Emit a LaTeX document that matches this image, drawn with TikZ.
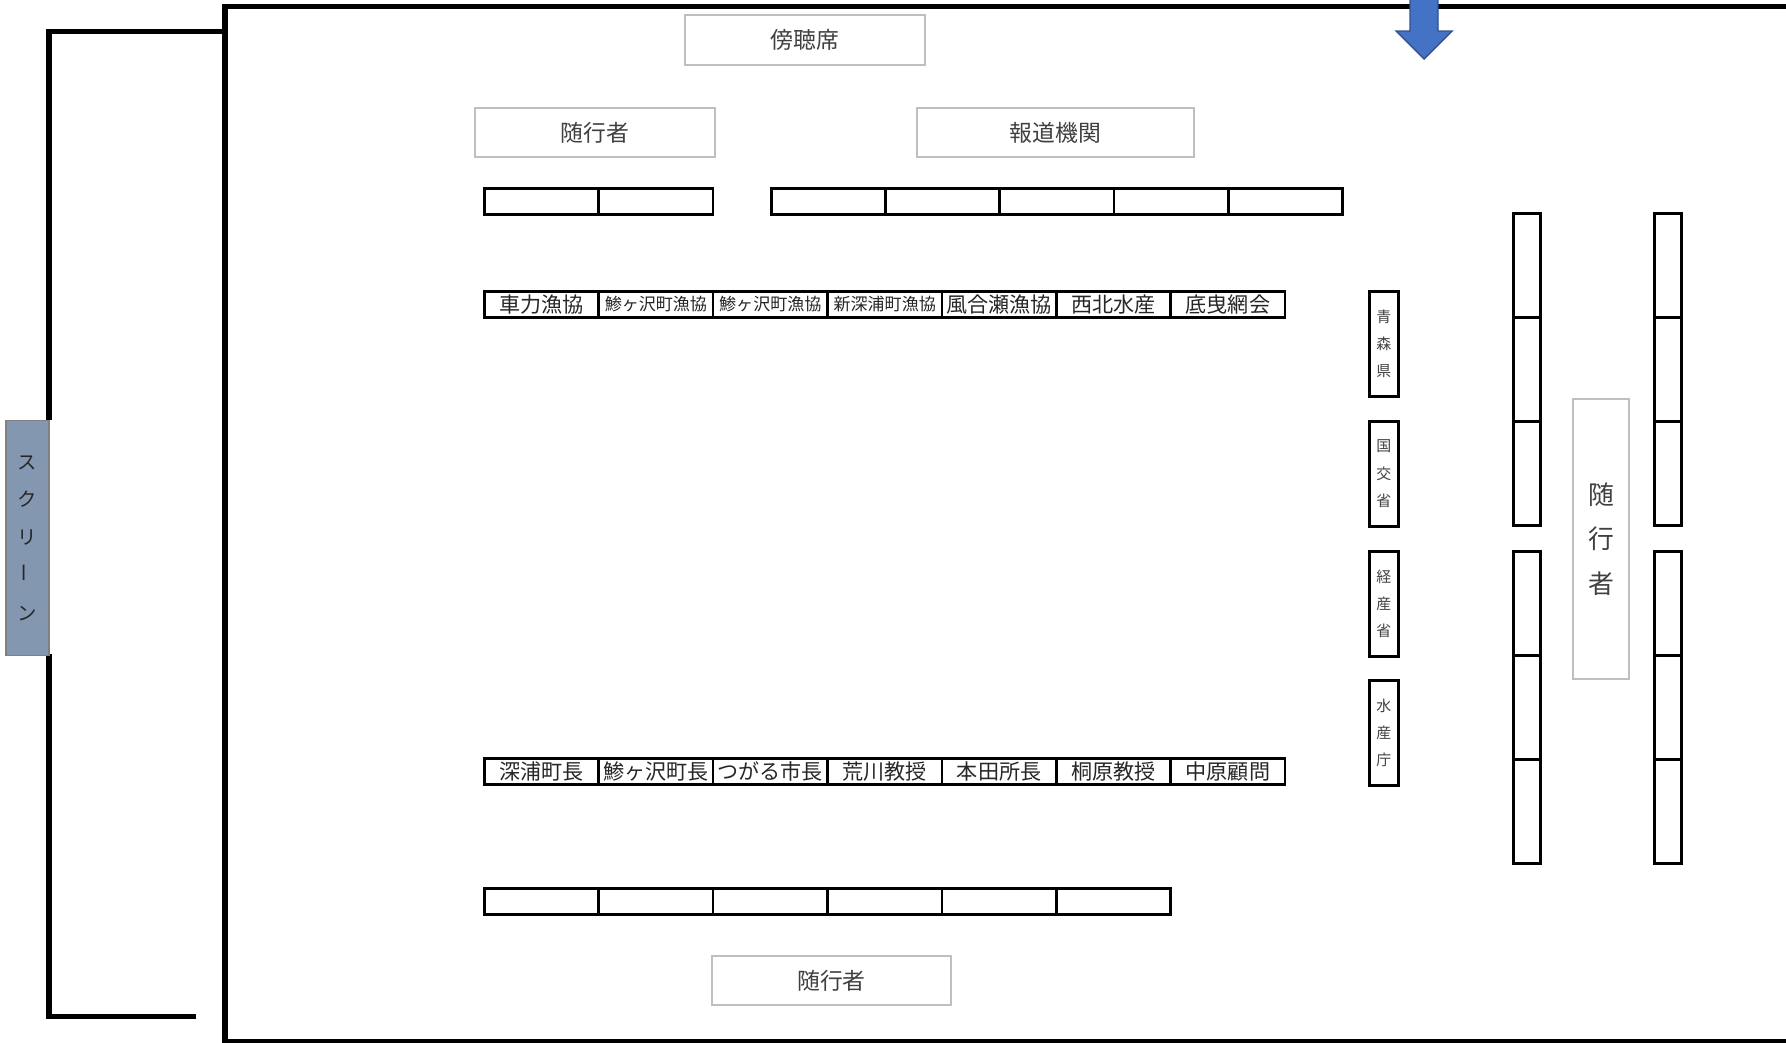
\documentclass[tikz,border=0pt]{standalone}
\usepackage{fontspec}
\setmainfont{Noto Sans CJK JP}
\usetikzlibrary{calc}
\definecolor{screenfill}{HTML}{8497B0}
\definecolor{arrowblue}{HTML}{4472C4}
\definecolor{arrowedge}{HTML}{2F528F}
\definecolor{tagline}{HTML}{BFBFBF}
\definecolor{tagtext}{HTML}{404040}
\newcommand{\narrowlab}[1]{{\fontsize{9.7}{10}\selectfont #1}}
\tikzset{
  wall/.style={line width=2.85pt},
  seat/.style={draw,line width=1.5pt,minimum width=2.288cm,minimum height=0.52cm,inner sep=0pt,anchor=north west,text=black!85,font=\fontsize{12}{13}\selectfont},
  chair/.style={draw,line width=1.6pt,minimum width=0.54cm,minimum height=2.08cm,inner sep=0pt,anchor=north west},
  ministry/.style={draw,line width=1.6pt,minimum width=0.58cm,minimum height=2.1cm,inner sep=0pt,anchor=north west,align=center,text=tagtext,font=\fontsize{8.5}{15.6}\selectfont},
  tagbox/.style={draw=tagline,line width=1pt,fill=white,inner sep=0pt,text=tagtext,font=\fontsize{13}{14}\selectfont}
}
\begin{document}
\begin{tikzpicture}[x=0.02cm,y=-0.02cm]
\useasboundingbox (0,0) rectangle (1786,1042);
% room and screen wall
\draw[wall] (1800,6) -- (225,6) -- (225,1041.5) -- (1800,1041.5);
\draw[wall] (225,31) -- (49,31) -- (49,420);
\draw[wall] (49,654) -- (49,1016) -- (196,1016);
\node[draw=gray,line width=0.6pt,fill=screenfill,minimum width=0.86cm,minimum height=4.7cm,inner sep=0pt,align=center,text=black!85,font=\fontsize{11}{21.5}\selectfont] (screen) at (27.5,538) {ス\\ク\\リ\\\rotatebox{90}{ー}\\ン};
% entrance
\draw[fill=arrowblue,draw=arrowedge,line width=0.8pt] (1410,-5) -- (1410,31) -- (1396,31) -- (1424,59) -- (1452,31) -- (1438,31) -- (1438,-5) -- cycle;
% gallery and press
\node[tagbox,minimum width=4.8cm,minimum height=1cm] (gallery) at (805,40) {傍聴席};
\node[tagbox,minimum width=4.8cm,minimum height=0.98cm] (aidetop) at (595,132.5) {随行者};
\node[tagbox,minimum width=5.54cm,minimum height=0.98cm] (press) at (1055.5,132.5) {報道機関};
\node[tagbox,minimum width=4.78cm,minimum height=0.98cm] (aidebottom) at (831.5,980.5) {随行者};
\node[tagbox,minimum width=1.12cm,minimum height=5.6cm,align=center,font=\fontsize{14.7}{25.5}\selectfont] (aideright) at (1601,539) {随\\行\\者};
% rows of tables
\foreach \i in {0,1} \node[seat] (back\i) at (483+114.4*\i,187) {};
\foreach \i in {0,...,4} \node[seat] (pressseat\i) at (770+114.2*\i,187) {};
\foreach \lab [count=\i from 0] in {車力漁協,\narrowlab{鯵ヶ沢町漁協},\narrowlab{鯵ヶ沢町漁協},\narrowlab{新深浦町漁協},風合瀬漁協,西北水産,底曳網会}
  \node[seat] (upper\i) at (483+114.4*\i,290) {\lab};
\foreach \lab [count=\i from 0] in {深浦町長,鯵ヶ沢町長,つがる市長,荒川教授,本田所長,桐原教授,中原顧問}
  \node[seat] (lower\i) at (483+114.4*\i,757) {\lab};
\foreach \i in {0,...,5} \node[seat] (front\i) at (483+114.4*\i,887) {};
% officials
\node[ministry] (aomori) at (1368,290) {青\\森\\県};
\node[ministry] (mlit) at (1368,420) {国\\交\\省};
\node[ministry] (meti) at (1368,550) {経\\産\\省};
\node[ministry] (jfa) at (1368,679) {水\\産\\庁};
% side chairs
\foreach \cx in {1512,1653}
  \foreach \cy [count=\k] in {212,316,420,550,654,758}
    \node[chair] (side\cx-\k) at (\cx,\cy) {};
\end{tikzpicture}
\end{document}
